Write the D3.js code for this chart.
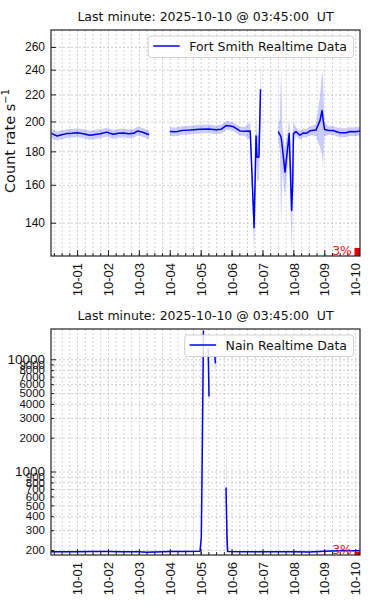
<!DOCTYPE html>
<html>
<head>
<meta charset="utf-8">
<script src="https://cdn.jsdelivr.net/npm/d3@7/dist/d3.min.js"></script>
<style>
body { margin: 0; background: #fff; }
svg { font-family: "DejaVu Sans", sans-serif; }
.grid line { stroke: #bdbdbd; stroke-dasharray: 2,2; stroke-width: 0.7; }
.grid path { display: none; }
.ax path { display: none; }
.ax line { stroke: #222; }
</style>
</head>
<body>
<div id="chart"></div>
<script>
var titleText = "Last minute: 2025-10-10 @ 03:45:00  UT";
var timeRange = ["09-30 03:45", "10-10 03:45"];
var pctText = "3%";

// Fort Smith (top panel), null = gap in the data
var fsTime = ["09-30 04:00","09-30 08:30","09-30 12:00","09-30 16:00","09-30 20:00",
  "10-01 00:00","10-01 05:00","10-01 10:00","10-01 14:00","10-01 18:00","10-01 23:00",
  "10-02 04:00","10-02 08:00","10-02 12:00","10-02 16:00","10-02 20:00","10-02 23:00",
  "10-03 03:00","10-03 08:00","10-03 08:15",
  "10-04 00:00","10-04 05:00","10-04 10:00","10-04 16:00","10-04 23:00",
  "10-05 06:00","10-05 12:00","10-05 16:00","10-05 20:00",
  "10-06 01:00","10-06 06:30","10-06 10:00","10-06 14:30","10-06 17:30","10-06 19:00",
  "10-06 19:45","10-06 21:15","10-06 22:30","10-06 22:45",
  "10-07 12:15","10-07 13:30","10-07 14:30","10-07 15:30","10-07 17:30","10-07 20:45",
  "10-07 22:40","10-07 23:30",
  "10-08 00:00","10-08 02:00","10-08 05:00","10-08 07:30","10-08 10:00","10-08 13:00",
  "10-08 17:30","10-08 20:40","10-08 22:15","10-08 23:00",
  "10-09 00:10","10-09 03:00","10-09 06:45","10-09 12:00","10-09 17:00","10-09 20:00",
  "10-10 00:30","10-10 03:45"];
var fsRate = [191.8,190.0,190.8,191.6,191.8,
  192.2,191.5,190.5,191.0,191.5,192.6,
  191.2,191.8,192.0,191.5,191.8,193.4,
  192.5,190.8,null,
  193.0,192.8,193.8,194.0,194.6,
  194.8,194.2,194.6,197.2,
  196.5,193.4,193.2,193.4,137.5,190.0,
  176.3,176.5,224.0,null,
  193.0,191.0,189.0,182.0,167.3,191.6,
  146.2,160.7,
  191.6,193.0,190.5,192.0,191.8,193.5,
  194.0,200.6,207.8,202.0,
  194.6,193.7,193.7,192.2,192.2,193.0,
  192.8,193.4];
var fsErr = [3,3,3,3,3,
  3,3,3,3,3,3,
  3,3,3,3,3,3,
  3,3,0,
  3,3,3,3,3,
  3,3,3,3,
  3,3,3,6,12,14,
  14,14,28,0,
  6,10,52,14,14,10,
  21,12,
  8,3,3,3,3,3,
  4,18,30,32,
  5,3,3,3,3,3,
  3,3];

// Nain (bottom panel)
var nainTime = ["09-30 04:00","10-01 00:00","10-01 12:00","10-02 00:00","10-02 12:00",
  "10-03 00:00","10-03 06:00","10-03 12:00","10-04 00:00","10-04 12:00","10-04 23:30",
  "10-05 00:30","10-05 01:15","10-05 02:10","10-05 02:20",
  "10-05 05:50","10-05 06:30","10-05 06:40",
  "10-05 11:00","10-05 11:30","10-05 11:40",
  "10-05 19:40","10-05 20:30","10-05 21:00",
  "10-06 12:00","10-07 00:00","10-07 12:00","10-08 00:00","10-08 12:00",
  "10-09 00:00","10-09 12:00","10-10 00:00","10-10 03:45"];
var nainRate = [193,193,194,194,193,
  193,191,192,194,194,195,
  260,1500,18000,null,
  12600,4650,null,
  10500,9200,null,
  720,250,194,
  193,193,193,193,192,
  195,197,197,197];
var nainErr = [2,2,2,2,2,
  2,2,2,2,2,2,
  20,300,3000,0,
  1500,1200,0,
  2000,1500,0,
  2700,40,2,
  2,2,2,2,2,
  2,2,2,2];

var fsTicks = [140, 160, 180, 200, 220, 240, 260];
var nainMajor = [1000, 10000];
var nainMinor = [200, 300, 400, 500, 600, 700, 800, 900,
  2000, 3000, 4000, 5000, 6000, 7000, 8000, 9000];

var W = 372, H = 606;
var left = 51, pw = 309, ph = 226;
var parse = function(s) { return d3.utcParse("%Y-%m-%d %H:%M")("2025-" + s); };

var svg = d3.select("#chart").append("svg")
  .attr("width", W).attr("height", H);

function zip(ts, vs, es) {
  return ts.map(function(t, i) { return {t: parse(t), v: vs[i], e: es[i]}; });
}

function panel(top, data, yDomain, majors, minors, name, id, barH) {
  var g = svg.append("g").attr("transform", "translate(" + left + "," + top + ")");
  var x = d3.scaleUtc().domain(timeRange.map(parse)).range([0, pw]);
  var y = d3.scaleLog().domain(yDomain).range([ph, 0]);
  var allTicks = majors.concat(minors);

  g.append("clipPath").attr("id", "clip" + id)
    .append("rect").attr("width", pw).attr("height", ph);

  // grid
  g.append("g").attr("class", "grid")
    .attr("transform", "translate(0," + ph + ")")
    .call(d3.axisBottom(x).ticks(d3.utcHour.every(6)).tickSize(-ph).tickFormat(""));
  g.append("g").attr("class", "grid")
    .call(d3.axisLeft(y).tickValues(allTicks).tickSize(-pw).tickFormat(""));

  var lo = yDomain[0] * 0.9;
  var band = d3.area()
    .defined(function(d) { return d.v != null; })
    .x(function(d) { return x(d.t); })
    .y0(function(d) { return y(Math.max(d.v - d.e, lo)); })
    .y1(function(d) { return y(d.v + d.e); });
  var line = d3.line()
    .defined(function(d) { return d.v != null; })
    .x(function(d) { return x(d.t); })
    .y(function(d) { return y(d.v); });

  var plot = g.append("g").attr("clip-path", "url(#clip" + id + ")");
  plot.append("path").datum(data).attr("d", band)
    .attr("fill", "rgba(0,0,255,0.2)").attr("stroke", "none");
  plot.append("path").datum(data).attr("d", line)
    .attr("fill", "none").attr("stroke", "#0000f0").attr("stroke-width", 1.5)
    .attr("stroke-linejoin", "round");

  // x axis
  g.append("g").attr("class", "ax")
    .attr("transform", "translate(0," + ph + ")")
    .call(d3.axisBottom(x).ticks(d3.utcHour.every(6)).tickSize(-3).tickFormat(""));
  var xa = g.append("g").attr("class", "ax")
    .attr("transform", "translate(0," + ph + ")")
    .call(d3.axisBottom(x).ticks(d3.utcDay.every(1)).tickSize(-6)
      .tickFormat(d3.utcFormat("%m-%d")));
  xa.selectAll("text")
    .attr("transform", "rotate(-90)")
    .attr("text-anchor", "end")
    .attr("x", -7).attr("y", 0).attr("dy", "0.36em")
    .attr("font-size", 13).attr("fill", "#111");

  // y axis
  var ya = g.append("g").attr("class", "ax")
    .call(d3.axisLeft(y).tickValues(majors).tickSize(-5).tickPadding(6)
      .tickFormat(d3.format("d")));
  ya.selectAll("text").attr("font-size", majors.length > 2 ? 12 : 13.5).attr("fill", "#111");
  if (minors.length) {
    var ym = g.append("g").attr("class", "ax")
      .call(d3.axisLeft(y).tickValues(minors).tickSize(-3).tickPadding(6)
        .tickFormat(d3.format("d")));
    ym.selectAll("text").attr("font-size", 11.5).attr("fill", "#111");
  }

  // pct indicator
  g.append("text").attr("x", pw - 8).attr("y", ph - 1.5)
    .attr("text-anchor", "end").attr("font-size", 12.5).attr("fill", "#f02020")
    .text(pctText);
  g.append("rect").attr("x", pw - 5.5).attr("y", ph - barH)
    .attr("width", 5.5).attr("height", barH).attr("fill", "#e00000");

  // frame
  g.append("rect").attr("width", pw).attr("height", ph)
    .attr("fill", "none").attr("stroke", "#222").attr("stroke-width", 1.2);

  // title
  g.append("text").attr("x", pw / 2).attr("y", -9)
    .attr("text-anchor", "middle").attr("font-size", 12.5).attr("fill", "#111")
    .style("white-space", "pre")
    .text(titleText);

  // legend
  var lg = g.append("g");
  var box = lg.append("rect").attr("y", 6).attr("height", 21.5).attr("rx", 3)
    .attr("fill", "rgba(255,255,255,0.85)").attr("stroke", "#d0d0d0");
  var lt = lg.append("text").attr("y", 20.8).attr("font-size", 12.5).attr("fill", "#111").text(name);
  var tw = lt.node().getComputedTextLength();
  var right = pw - 6.5;
  var tx = right - 6.5 - tw;
  lt.attr("x", tx);
  lg.append("line").attr("x1", tx - 36).attr("x2", tx - 9.5).attr("y1", 16).attr("y2", 16)
    .attr("stroke", "#0000f0").attr("stroke-width", 1.5);
  box.attr("x", tx - 41).attr("width", right - (tx - 41));
  return g;
}

var g1 = panel(30, zip(fsTime, fsRate, fsErr), [124.5, 276], fsTicks, [],
  "Fort Smith Realtime Data", 1, 8);
panel(329, zip(nainTime, nainRate, nainErr), [180.5, 18600], nainMajor, nainMinor,
  "Nain Realtime Data", 2, 3);

// y label on the top panel
var yl = g1.append("text").attr("transform", "translate(" + (15 - left) + "," + (ph / 2 - 2) + ") rotate(-90)")
  .attr("text-anchor", "middle").attr("font-size", 14.5).attr("fill", "#111");
yl.append("tspan").text("Count rate s");
yl.append("tspan").attr("dy", -6).attr("font-size", 10).text("\u22121");
</script>
</body>
</html>
